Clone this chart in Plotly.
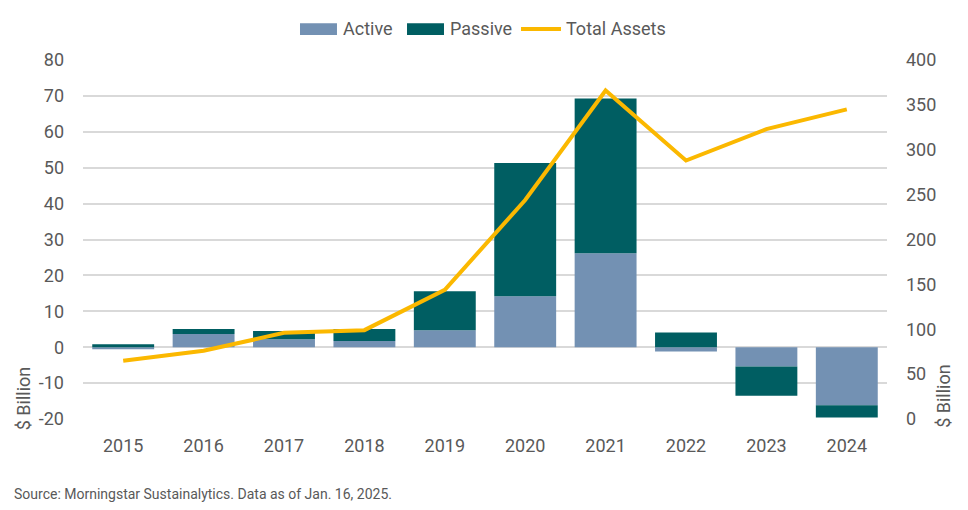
import plotly.graph_objects as go

years = ["2015", "2016", "2017", "2018", "2019", "2020", "2021", "2022", "2023", "2024"]
active = [-0.6, 3.7, 2.2, 1.7, 4.7, 14.2, 26.2, -1.2, -5.4, -16.2]
passive = [0.8, 1.4, 2.3, 3.4, 10.9, 37.1, 43.1, 4.1, -8.1, -3.4]
total_assets = [65, 76, 96, 99, 144, 244, 366, 288, 323, 345]

left_ticks = list(range(-20, 81, 10))
right_ticks = list(range(0, 401, 50))

FONT = "Roboto, sans-serif"
FS = 18
TXT = "#595959"
GRID = "#d9d9d9"
C_ACT = "#7391b3"
C_PAS = "#005e62"
C_TOT = "#fbb800"

fig = go.Figure()
fig.add_trace(go.Bar(x=years, y=active, name="Active", marker=dict(color=C_ACT, line=dict(width=0))))
fig.add_trace(go.Bar(x=years, y=passive, name="Passive", marker=dict(color=C_PAS, line=dict(width=0))))
fig.add_trace(go.Scatter(x=years, y=total_assets, name="Total Assets", mode="lines",
                         line=dict(color=C_TOT, width=4), yaxis="y2"))

# custom legend (wide swatches like the reference)
LY = 1.0864
shapes = [
    dict(type="rect", xref="paper", yref="paper", x0=0.2699, x1=0.3159, y0=1.0696, y1=1.1022,
         fillcolor=C_ACT, line=dict(width=0)),
    dict(type="rect", xref="paper", yref="paper", x0=0.403, x1=0.449, y0=1.0696, y1=1.1022,
         fillcolor=C_PAS, line=dict(width=0)),
    dict(type="line", xref="paper", yref="paper", x0=0.5448, x1=0.5945, y0=LY, y1=LY,
         line=dict(color=C_TOT, width=4)),
]
legend_ann = [
    dict(text="Active", x=0.3209, y=LY),
    dict(text="Passive", x=0.454, y=LY),
    dict(text="Total Assets", x=0.598, y=LY),
]
anns = [dict(a, xref="paper", yref="paper", xanchor="left", yanchor="middle", showarrow=False,
             font=dict(size=FS, color=TXT)) for a in legend_ann]

anns += [
    dict(text="$ Billion", textangle=-90, xref="paper", yref="paper", x=-0.073, y=-0.036,
         xanchor="center", yanchor="bottom", showarrow=False, font=dict(size=FS, color=TXT)),
    dict(text="$ Billion", textangle=-90, xref="paper", yref="paper", x=1.071, y=-0.03,
         xanchor="center", yanchor="bottom", showarrow=False, font=dict(size=FS, color=TXT)),
    dict(text="Source: Morningstar Sustainalytics. Data as of Jan. 16, 2025.", xref="paper",
         yref="paper", x=-0.0883, y=-0.209, xanchor="left", yanchor="middle",
         showarrow=False, font=dict(size=14, color=TXT)),
]

fig.update_layout(
    width=968, height=510,
    margin=dict(l=83, r=81, t=60, b=91),
    paper_bgcolor="white", plot_bgcolor="white",
    barmode="relative", bargap=0.23,
    font=dict(family=FONT, size=FS, color=TXT),
    showlegend=False,
    xaxis=dict(showgrid=False, showline=False, ticks="", ticklabelstandoff=14,
               tickfont=dict(size=FS, color=TXT)),
    yaxis=dict(range=[-20, 80], tickvals=left_ticks, ticktext=[str(v) for v in left_ticks],
               showgrid=True, gridcolor=GRID, gridwidth=1.5,
               zeroline=True, zerolinecolor=GRID, zerolinewidth=1.5, showline=False, ticks="",
               ticklabelstandoff=18, tickfont=dict(size=FS, color=TXT)),
    yaxis2=dict(range=[0, 400], tickvals=right_ticks, overlaying="y", side="right", showgrid=False,
                zeroline=False, showline=False, ticks="", ticklabelstandoff=18,
                tickfont=dict(size=FS, color=TXT)),
    shapes=shapes,
    annotations=anns,
)
fig.write_html("out.html")
